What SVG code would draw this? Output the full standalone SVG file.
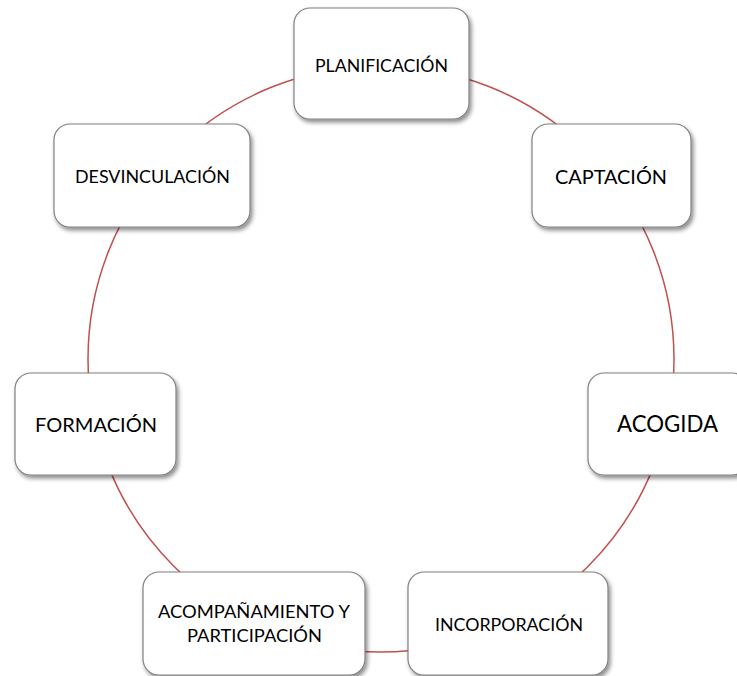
<svg xmlns="http://www.w3.org/2000/svg" width="737" height="676" viewBox="0 0 737 676">
<defs>
<filter id="sh" x="-10%" y="-10%" width="130%" height="140%">
<feDropShadow dx="2" dy="3" stdDeviation="2" flood-color="#000" flood-opacity="0.45"/>
</filter>
<style>
.box{fill:#ffffff;stroke:#808080;stroke-width:1.2;filter:url(#sh)}
.t{font-family:Lato,"Liberation Sans",sans-serif;fill:#000;text-anchor:middle}
.link{fill:none;stroke:#c0504d;stroke-width:1.5}
</style>
</defs>
<rect width="737" height="676" fill="#ffffff"/>
<g id="connectors">
<circle class="link" cx="381" cy="359" r="293"/>
</g>
<g id="planificacion">
<rect class="box" x="294" y="8" width="175" height="111" rx="16"/>
<text class="t" x="381.5" y="72" font-size="18" textLength="133" lengthAdjust="spacingAndGlyphs">PLANIFICACIÓN</text>
</g>
<g id="captacion">
<rect class="box" x="532" y="124" width="159" height="103" rx="16"/>
<text class="t" x="611" y="184" font-size="20" textLength="112" lengthAdjust="spacingAndGlyphs">CAPTACIÓN</text>
</g>
<g id="acogida">
<rect class="box" x="588" y="373" width="160" height="102" rx="16"/>
<text class="t" x="667.5" y="432" font-size="23" textLength="101" lengthAdjust="spacingAndGlyphs">ACOGIDA</text>
</g>
<g id="incorporacion">
<rect class="box" x="408" y="572" width="200" height="103" rx="16"/>
<text class="t" x="509" y="631" font-size="18" textLength="148" lengthAdjust="spacingAndGlyphs">INCORPORACIÓN</text>
</g>
<g id="acompanamiento">
<rect class="box" x="143" y="572" width="222" height="103" rx="16"/>
<text class="t" x="254" y="618" font-size="18" textLength="192" lengthAdjust="spacingAndGlyphs">ACOMPAÑAMIENTO Y</text>
<text class="t" x="254.5" y="642" font-size="18" textLength="135" lengthAdjust="spacingAndGlyphs">PARTICIPACIÓN</text>
</g>
<g id="formacion">
<rect class="box" x="15" y="373" width="161" height="102" rx="16"/>
<text class="t" x="96" y="432" font-size="20" textLength="122" lengthAdjust="spacingAndGlyphs">FORMACIÓN</text>
</g>
<g id="desvinculacion">
<rect class="box" x="54" y="124" width="196" height="103" rx="16"/>
<text class="t" x="152.5" y="183" font-size="18" textLength="155" lengthAdjust="spacingAndGlyphs">DESVINCULACIÓN</text>
</g>
</svg>
